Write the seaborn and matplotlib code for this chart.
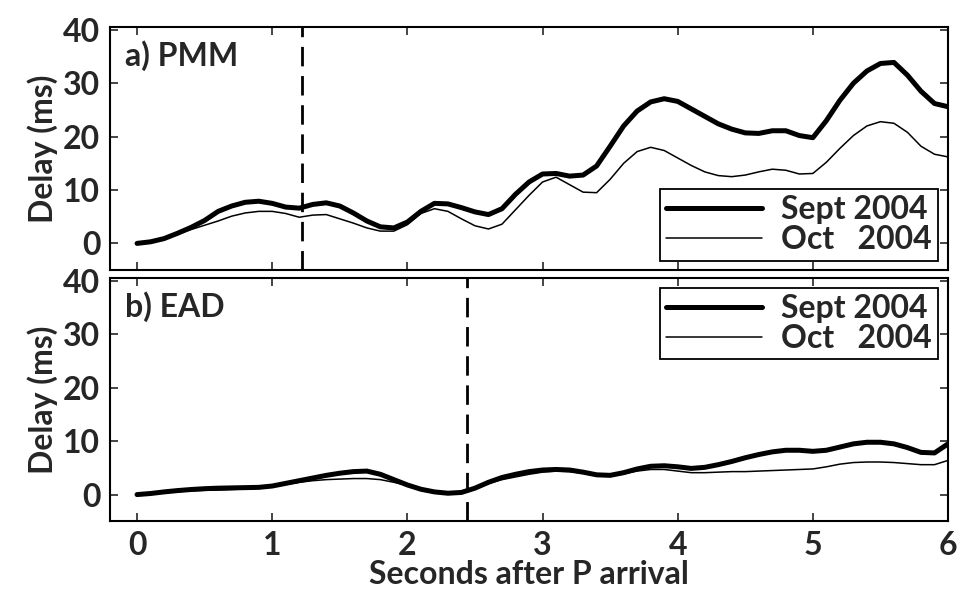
import numpy as np
import pandas as pd
import matplotlib
matplotlib.use("Agg")
import matplotlib.pyplot as plt
import seaborn as sns

# ---- data ----
t = [round(0.1 * i, 1) for i in range(61)]

pmm_sept = [0, 0.3, 0.9, 1.9, 3.0, 4.3, 6.0, 7.0, 7.7, 7.9,
            7.5, 6.8, 6.6, 7.3, 7.6, 7.0, 5.7, 4.2, 3.1, 2.9,
            4.0, 6.0, 7.5, 7.4, 6.7, 5.9, 5.4, 6.5, 9.2, 11.5,
            13.0, 13.1, 12.6, 12.8, 14.5, 18.2, 22.0, 24.8, 26.5, 27.1,
            26.6, 25.2, 23.8, 22.4, 21.4, 20.7, 20.6, 21.1, 21.1, 20.2,
            19.8, 23.0, 26.8, 30.0, 32.3, 33.7, 33.9, 31.5, 28.5, 26.2,
            25.6]
pmm_oct = [0, 0.3, 0.9, 1.7, 2.6, 3.4, 4.2, 5.1, 5.7, 6.0,
           6.0, 5.6, 4.9, 5.3, 5.4, 4.6, 3.8, 2.9, 2.3, 2.3,
           3.5, 5.6, 6.5, 6.0, 4.6, 3.3, 2.7, 3.6, 6.3, 9.0,
           11.5, 12.4, 11.0, 9.6, 9.5, 12.0, 15.0, 17.2, 18.0, 17.4,
           16.0, 14.6, 13.4, 12.7, 12.5, 12.8, 13.4, 13.9, 13.7, 13.0,
           13.1, 15.2, 17.8, 20.2, 22.0, 22.8, 22.5, 20.8, 18.2, 16.7,
           16.2]
ead_sept = [0, 0.2, 0.5, 0.75, 0.95, 1.1, 1.2, 1.25, 1.3, 1.35,
            1.6, 2.1, 2.6, 3.1, 3.6, 4.0, 4.3, 4.4, 3.8, 2.8,
            1.8, 1.0, 0.5, 0.25, 0.4, 1.2, 2.3, 3.2, 3.8, 4.3,
            4.6, 4.7, 4.6, 4.2, 3.7, 3.6, 4.1, 4.8, 5.3, 5.4,
            5.2, 4.9, 5.1, 5.6, 6.2, 6.9, 7.5, 8.0, 8.3, 8.3,
            8.1, 8.3, 8.9, 9.5, 9.8, 9.8, 9.5, 8.8, 7.9, 7.8,
            9.5]
ead_oct = [0, 0.15, 0.35, 0.55, 0.7, 0.8, 0.85, 0.95, 1.05, 1.2,
           1.5, 1.9, 2.3, 2.6, 2.8, 2.9, 3.0, 3.0, 2.8, 2.3,
           1.7, 1.1, 0.6, 0.4, 0.5, 1.2, 2.1, 2.8, 3.3, 3.8,
           4.2, 4.4, 4.3, 4.0, 3.7, 3.6, 3.9, 4.4, 4.7, 4.7,
           4.4, 4.1, 4.1, 4.2, 4.3, 4.3, 4.4, 4.5, 4.6, 4.7,
           4.8, 5.2, 5.7, 6.0, 6.1, 6.1, 6.0, 5.8, 5.6, 5.6,
           6.4]

series_labels = ["Sept 2004", "Oct   2004"]
panel_titles = ["a) PMM", "b) EAD"]
marker_times = [1.22, 2.44]
x_ticks = [0, 1, 2, 3, 4, 5, 6]
y_ticks = [0, 10, 20, 30, 40]

# ---- style ----
sns.set_style("ticks")
plt.rcParams["font.family"] = ["Lato", "DejaVu Sans"]
plt.rcParams["font.weight"] = "bold"
plt.rcParams["axes.labelweight"] = "bold"
FS = 23

fig = plt.figure(figsize=(9.61, 5.91), dpi=100)
ax_a = fig.add_axes([0.1145, 0.543, 0.872, 0.411])
ax_b = fig.add_axes([0.1145, 0.118, 0.872, 0.411])

panels = [(ax_a, pmm_sept, pmm_oct, "lower right"),
          (ax_b, ead_sept, ead_oct, "upper right")]

for i, (ax, sept, oct_, loc) in enumerate(panels):
    sns.lineplot(x=t, y=sept, ax=ax, color="black", linewidth=3.6,
                 label=series_labels[0])
    sns.lineplot(x=t, y=oct_, ax=ax, color="black", linewidth=1.1,
                 label=series_labels[1])
    ax.axvline(marker_times[i], color="black", linewidth=2.0,
               linestyle=(0, (7, 3.5)))
    ax.set_xlim(-0.2, 6.0)
    ax.set_ylim(-5, 40.5)
    ax.set_xticks(x_ticks)
    ax.set_yticks(y_ticks)
    ax.tick_params(direction="in", top=True, right=True, length=6,
                   width=1.2, labelsize=FS, pad=7)
    for s in ax.spines.values():
        s.set_linewidth(1.5)
        s.set_color("black")
    ax.set_ylabel("Delay (ms)", fontsize=FS, labelpad=4, fontweight="bold")
    ax.text(0.018, 0.885, panel_titles[i], transform=ax.transAxes,
            fontsize=FS, va="center", ha="left", fontweight="bold")
    leg = ax.legend(loc=loc, fontsize=FS, frameon=True, fancybox=False,
                    edgecolor="black", handlelength=3.0, borderpad=0.2,
                    labelspacing=0.02, handletextpad=0.6,
                    borderaxespad=0.3)
    leg.get_frame().set_linewidth(1.3)
    leg.get_frame().set_alpha(1)

ax_a.tick_params(labelbottom=False)
ax_a.set_xlabel("")
ax_b.set_xlabel("Seconds after P arrival", fontsize=FS, labelpad=0,
                fontweight="bold")

fig.savefig("out.png", dpi=100)
